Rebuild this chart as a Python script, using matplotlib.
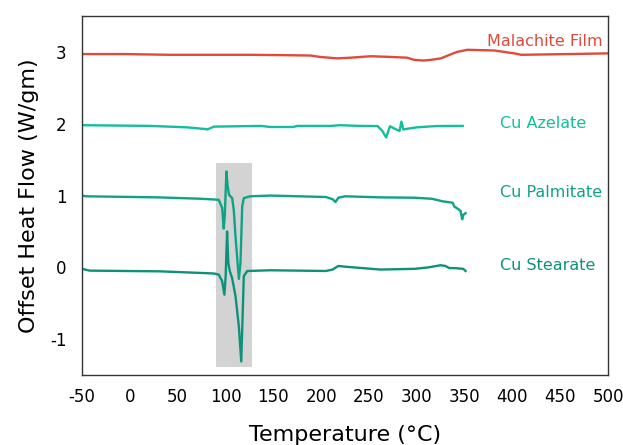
import matplotlib
matplotlib.use("Agg")
import matplotlib.pyplot as plt
from matplotlib.patches import Rectangle

plt.rcParams['font.family'] = ['DejaVu Sans']
plt.rcParams['axes.unicode_minus'] = False

# Offset DSC traces (temperature in deg C, heat flow offset in W/gm)
malachite_T = [-50, -5, 42, 126, 161, 189, 199, 217, 231, 252, 273, 290, 297, 307,
               315, 325, 342, 353, 381, 402, 409, 458, 500]
malachite_y = [2.97, 2.97, 2.96, 2.96, 2.955, 2.95, 2.93, 2.91, 2.92, 2.94, 2.93, 2.92,
               2.89, 2.88, 2.89, 2.91, 3.00, 3.03, 3.02, 2.98, 2.96, 2.97, 2.98]

azelate_T = [-50, 21, 60, 80, 81, 88, 137, 147, 171, 175, 210, 220, 240, 259, 264,
             268, 272, 277, 282, 284, 286, 290, 300, 320, 348]
azelate_y = [1.98, 1.97, 1.95, 1.925, 1.92, 1.96, 1.97, 1.955, 1.955, 1.97, 1.97, 1.98,
             1.97, 1.968, 1.90, 1.81, 1.965, 1.93, 1.90, 2.03, 1.92, 1.93, 1.95, 1.968, 1.97]

palmitate_T = [-50, -46, 30, 74, 89, 93, 96.5, 98.2, 99.3, 101, 102.3, 103.8, 107,
               108.7, 110.5, 114, 115.7, 117.5, 119.2, 126, 147, 205, 212, 215, 218,
               225, 262, 298, 316, 327, 337.6, 339.6, 341.4, 345.7, 347.5, 348.6, 351]
palmitate_y = [1.0, 0.99, 0.975, 0.956, 0.945, 0.94, 0.83, 0.54, 0.72, 1.336, 1.13, 1.01,
               0.965, 0.80, 0.43, -0.16, 0.06, 0.85, 0.965, 0.99, 1.0, 0.98, 0.95, 0.91,
               0.97, 0.99, 0.975, 0.97, 0.955, 0.92, 0.90, 0.84, 0.83, 0.79, 0.67, 0.73, 0.755]

stearate_T = [-50, -42, 32, 74, 88, 93, 96.5, 98.9, 100.2, 101.7, 103, 104.5, 107,
              110.5, 114, 116.5, 117.8, 119.2, 122.8, 147, 205, 212, 218, 225, 262,
              298, 312, 325, 330, 334, 340, 348.6, 351]
stearate_y = [-0.02, -0.045, -0.055, -0.077, -0.085, -0.10, -0.19, -0.38, -0.13, 0.50,
              0.06, -0.05, -0.15, -0.40, -0.82, -1.31, -0.73, -0.12, -0.05, -0.04,
              -0.05, -0.03, 0.02, 0.01, -0.03, -0.02, 0.0, 0.03, 0.02, -0.01, -0.01,
              -0.02, -0.05]

series_names = ["Malachite Film", "Cu Azelate", "Cu Palmitate", "Cu Stearate"]
colors = ["#e04a3b", "#12bf9c", "#0ea386", "#0d9178"]
label_pos = [(434, 3.14), (432, 2.0), (440, 1.04), (437, 0.03)]

x_ticks = [-50, 0, 50, 100, 150, 200, 250, 300, 350, 400, 450, 500]
y_ticks = [-1, 0, 1, 2, 3]

fig = plt.figure(figsize=(6.23, 4.45), dpi=100)
ax = fig.add_axes([0.1316, 0.157, 0.8444, 0.807])

# highlighted melting region
ax.add_patch(Rectangle((90, -1.38), 38, 2.83, facecolor="#d3d3d3",
                       edgecolor="none", zorder=0))

traces = [(malachite_T, malachite_y), (azelate_T, azelate_y),
          (palmitate_T, palmitate_y), (stearate_T, stearate_y)]
for (t, y), c, name, (lx, ly) in zip(traces, colors, series_names, label_pos):
    ax.plot(t, y, color=c, lw=1.7, zorder=2, solid_joinstyle="round")
    ax.text(lx, ly, name, color=c, fontsize=11.5, ha="center", va="center")

ax.set_xlim(-50, 500)
ax.set_ylim(-1.5, 3.5)
ax.set_xticks(x_ticks)
ax.set_yticks(y_ticks)
ax.tick_params(length=0, labelsize=12, pad=9)
ax.tick_params(axis="y", pad=11)
for s in ax.spines.values():
    s.set_color("#333333")
    s.set_linewidth(1.0)

ax.set_xlabel("Temperature (°C)", fontsize=16, labelpad=14)
ax.set_ylabel("Offset Heat Flow (W/gm)", fontsize=16, labelpad=8)

fig.savefig("out.png", dpi=100)
